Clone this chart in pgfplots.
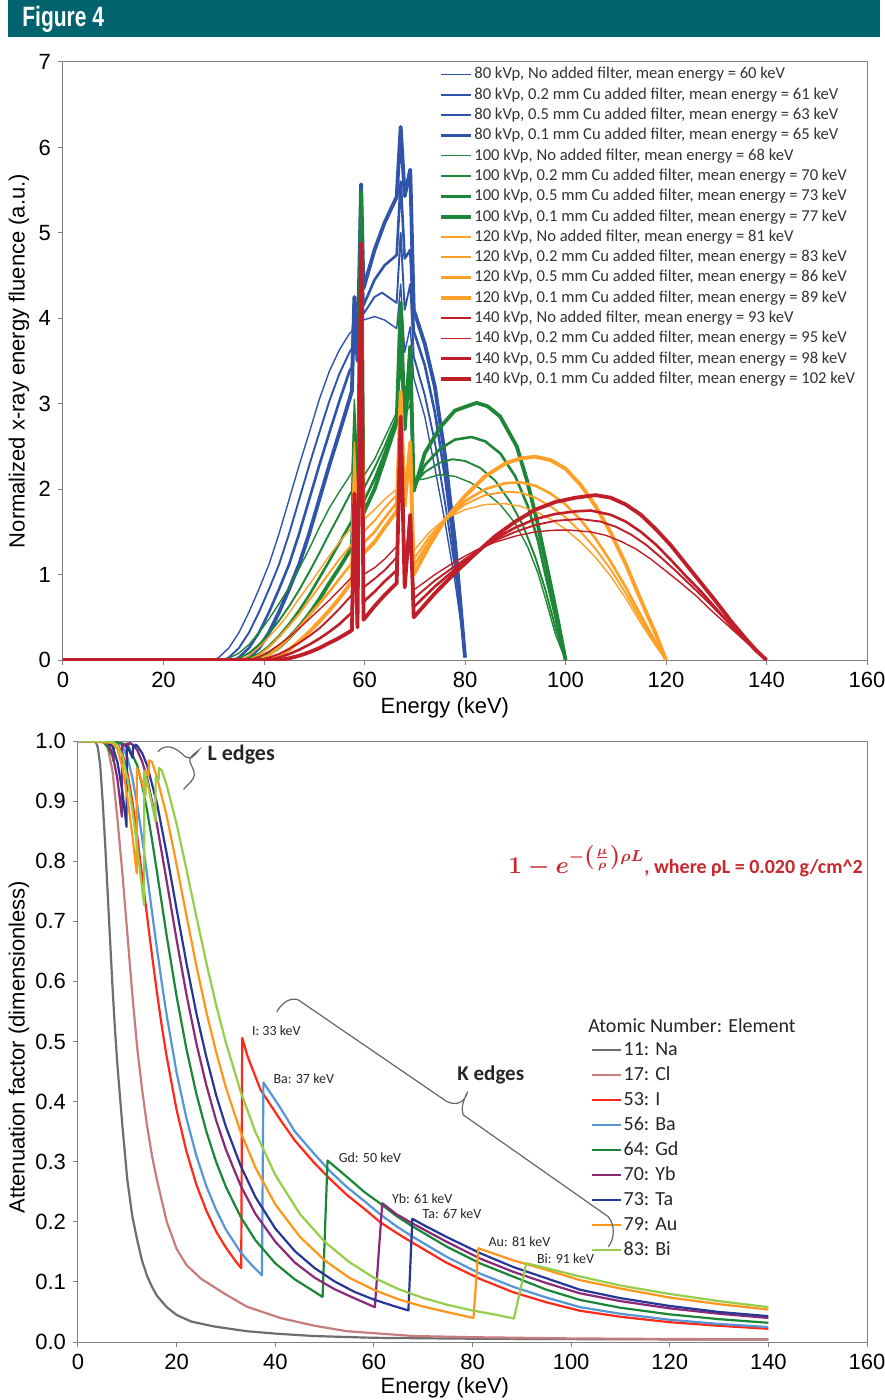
\documentclass[border=0pt]{standalone}
\usepackage{pgfplots}
\pgfplotsset{compat=1.18}
\usepackage{fontspec}
\setmainfont{Carlito}
\newfontfamily\narrowfont{Liberation Sans}[FakeStretch=0.75]
\newfontfamily\arialfont{Liberation Sans}
\newcommand{\tickfont}{\arialfont\fontsize{11}{12}\selectfont}
\newcommand{\labfont}{\arialfont\fontsize{11}{13}\selectfont}

\definecolor{headteal}{RGB}{0,99,110}
\definecolor{kblue}{RGB}{47,84,170}
\definecolor{kgreen}{RGB}{30,135,55}
\definecolor{korange}{RGB}{255,160,40}
\definecolor{kred}{RGB}{192,30,40}
\definecolor{cNa}{RGB}{110,110,110}
\definecolor{cCl}{RGB}{200,125,125}
\definecolor{cI}{RGB}{255,40,25}
\definecolor{cBa}{RGB}{85,150,215}
\definecolor{cGd}{RGB}{25,135,55}
\definecolor{cYb}{RGB}{140,40,120}
\definecolor{cTa}{RGB}{40,55,150}
\definecolor{cAu}{RGB}{255,150,25}
\definecolor{cBi}{RGB}{150,205,75}
\definecolor{formred}{RGB}{200,40,45}

\pgfplotsset{
  figaxis/.style={
    scale only axis,
    xmin=0, xmax=160, xtick={0,20,...,160},
    xtick pos=bottom, ytick pos=left, tick align=outside,
    major tick length=2.5pt,
    axis line style={draw=black!50, line width=0.5pt},
    every tick/.style={draw=black!50, line width=0.5pt},
    /pgf/number format/assume math mode=true,
    tick label style={font=\tickfont, text=black},
    xlabel={Energy (keV)},
    no markers,
    every axis plot/.append style={line join=round},
    legend cell align=left,
  }
}

\begin{document}
\begin{tikzpicture}
\fill[white] (0,0) rectangle (442pt,-700pt);
\fill[headteal] (4pt,0pt) rectangle (440pt,-18.5pt);
\node[anchor=west, text=white, inner sep=0pt, font=\narrowfont\bfseries\fontsize{14}{14}\selectfont] at (11pt,-9.5pt) {Figure 4};

% ---------------- top: spectra ----------------
\begin{axis}[figaxis,
  at={(31.5pt,-330pt)}, anchor=south west,
  width=402pt, height=299pt,
  ymin=0, ymax=7, ytick={0,1,...,7},
  xlabel style={font=\labfont, at={(axis description cs:0.475,0)}, anchor=center, yshift=-24pt},
  ylabel={Normalized x-ray energy fluence (a.u.)},
  ylabel style={font=\labfont, at={(axis description cs:-0.0547,0.5)}, anchor=center},
  legend image code/.code={\draw[#1] (0pt,0pt) -- (15pt,0pt);},
  legend style={at={(0.4676,0.995)}, anchor=north west, draw=none, fill=none,
    inner sep=0pt, row sep=0.95pt, font=\fontsize{8.3}{9}\selectfont, text=black!80,
    nodes={inner sep=0.6pt, text height=6.2pt, text depth=1.8pt}},
]
% 80 kVp
\addplot[kblue, line width=0.7pt] coordinates {(0,0)(30,0)(31,0.03)(33,0.14)(35,0.32)(37,0.56)(39,0.83)(41,1.12)(43,1.48)(45,1.88)(47,2.28)(49,2.66)(51,3.05)(53,3.38)(55,3.63)(57,3.82)(57.5,3.85)(57.98,4.05)(58.6,3.8)(59.32,4.7)(59.8,3.98)(62,4.02)(64,3.98)(66.4,3.88)(67.2,4.4)(68,3.6)(69.1,3.9)(69.8,3.3)(72,2.85)(74,2.25)(76,1.62)(78,0.92)(79,0.5)(80,0.03)};
\addlegendentry{80 kVp, No added filter, mean energy = 60 keV}
\addplot[kblue, line width=0.95pt] coordinates {(0,0)(32,0)(33,0.03)(35,0.14)(37,0.32)(39,0.56)(41,0.83)(43,1.12)(45,1.48)(47,1.88)(49,2.28)(51,2.66)(53,3.03)(55,3.35)(57,3.6)(57.5,3.65)(57.98,4.1)(58.6,3.7)(59.32,5.0)(59.8,4.05)(62,4.25)(63.5,4.3)(66.4,4.18)(67.2,5.0)(68,4.1)(69.1,4.4)(69.8,3.55)(72,3.1)(74,2.55)(76,1.85)(78,1.08)(79,0.58)(80,0.03)};
\addlegendentry{80 kVp, 0.2 mm Cu added filter, mean energy = 61 keV}
\addplot[kblue, line width=1.3pt] coordinates {(0,0)(34,0)(35,0.03)(37,0.14)(39,0.32)(41,0.56)(43,0.83)(45,1.12)(47,1.48)(49,1.88)(51,2.28)(53,2.66)(55,3.03)(57,3.38)(57.5,3.43)(57.98,4.2)(58.6,3.6)(59.32,5.3)(59.8,4.15)(62,4.45)(64,4.62)(66.4,4.74)(67.2,5.6)(68,4.7)(69.1,4.8)(69.8,3.85)(72,3.45)(74,2.9)(76,2.15)(78,1.22)(79,0.65)(80,0.03)};
\addlegendentry{80 kVp, 0.5 mm Cu added filter, mean energy = 63 keV}
\addplot[kblue, line width=1.9pt] coordinates {(0,0)(36,0)(37,0.03)(39,0.14)(41,0.32)(43,0.56)(45,0.83)(47,1.12)(49,1.48)(51,1.88)(53,2.28)(55,2.66)(57,3.05)(57.5,3.15)(57.98,4.25)(58.6,3.5)(59.32,5.57)(59.8,4.35)(62,4.8)(64,5.12)(66.4,5.42)(67.2,6.24)(68,5.43)(69.1,5.74)(69.8,4.1)(72,3.7)(74,3.2)(76,2.4)(78,1.38)(79,0.72)(80,0.03)};
\addlegendentry{80 kVp, 0.1 mm Cu added filter, mean energy = 65 keV}
% 100 kVp
\addplot[kgreen, line width=0.7pt] coordinates {(0,0)(32,0)(33,0.02)(35,0.08)(37,0.18)(39,0.32)(41,0.48)(43,0.66)(45,0.85)(47,1.07)(49,1.3)(51,1.55)(53,1.78)(55,1.97)(57,2.15)(57.5,2.2)(57.98,3.05)(58.6,2.3)(59.32,4.5)(59.8,2.15)(62,2.35)(64,2.6)(66.4,2.9)(67.2,3.4)(68,2.85)(69.1,3.0)(69.8,2.1)(72,2.12)(75,2.17)(78,2.15)(81,2.08)(84,1.97)(87,1.82)(90,1.6)(92.5,1.32)(94.5,1.02)(96,0.72)(98,0.3)(100,0)};
\addlegendentry{100 kVp, No added filter, mean energy = 68 keV}
\addplot[kgreen, line width=0.95pt] coordinates {(0,0)(34,0)(35,0.02)(37,0.08)(39,0.18)(41,0.31)(43,0.46)(45,0.63)(47,0.82)(49,1.03)(51,1.25)(53,1.48)(55,1.7)(57,1.93)(57.5,1.98)(57.98,2.8)(58.6,1.95)(59.32,4.9)(59.8,2.0)(62,2.25)(64,2.5)(66.4,2.85)(67.2,3.6)(68,2.8)(69.1,3.2)(69.8,2.05)(72,2.2)(75,2.31)(77.5,2.35)(80,2.33)(83,2.25)(86,2.1)(89,1.85)(91.5,1.58)(94,1.2)(96,0.82)(98,0.38)(100,0)};
\addlegendentry{100 kVp, 0.2 mm Cu added filter, mean energy = 70 keV}
\addplot[kgreen, line width=1.3pt] coordinates {(0,0)(36,0)(37,0.02)(39,0.07)(41,0.16)(43,0.28)(45,0.42)(47,0.58)(49,0.76)(51,0.96)(53,1.16)(55,1.37)(57,1.58)(57.5,1.63)(57.98,2.55)(58.6,1.6)(59.32,5.2)(59.8,1.85)(62,2.12)(64,2.42)(66.4,2.8)(67.2,3.9)(68,2.75)(69.1,3.4)(69.8,2.0)(72,2.28)(75,2.47)(78,2.58)(81.3,2.61)(84,2.56)(87,2.42)(90,2.15)(92.5,1.8)(94.5,1.4)(96,1.0)(98,0.5)(100,0)};
\addlegendentry{100 kVp, 0.5 mm Cu added filter, mean energy = 73 keV}
\addplot[kgreen, line width=1.9pt] coordinates {(0,0)(38,0)(39,0.02)(41,0.07)(43,0.15)(45,0.26)(47,0.39)(49,0.54)(51,0.71)(53,0.9)(55,1.08)(57,1.27)(57.5,1.32)(57.98,2.3)(58.6,1.3)(59.32,5.48)(59.8,1.72)(62,2.0)(64,2.35)(66.4,2.78)(67.2,4.18)(68,2.7)(69.1,3.67)(69.8,1.98)(72,2.42)(75,2.72)(78,2.92)(82.3,3.01)(84.5,2.97)(87,2.85)(90.3,2.5)(92.3,2.11)(94.3,1.64)(96.3,1.09)(98.2,0.55)(100,0)};
\addlegendentry{100 kVp, 0.1 mm Cu added filter, mean energy = 77 keV}
% 120 kVp
\addplot[korange, line width=0.7pt] coordinates {(0,0)(35,0)(37,0.05)(39,0.15)(41,0.27)(43,0.4)(45,0.55)(47,0.72)(49,0.88)(51,1.05)(53,1.22)(55,1.38)(57,1.52)(57.5,1.56)(57.98,2.55)(58.6,1.7)(59.32,3.4)(59.8,1.64)(62,1.76)(64,1.88)(66.4,2.0)(67.2,2.6)(68,1.95)(69.1,2.2)(69.8,1.28)(73,1.5)(76,1.65)(80,1.76)(84,1.82)(88,1.83)(91,1.8)(94,1.74)(97,1.65)(100,1.53)(103,1.38)(106,1.2)(109,0.98)(112,0.72)(115,0.43)(118,0.16)(120,0)};
\addlegendentry{120 kVp, No added filter, mean energy = 81 keV}
\addplot[korange, line width=0.95pt] coordinates {(0,0)(37,0)(39,0.06)(41,0.15)(43,0.27)(45,0.4)(47,0.54)(49,0.7)(51,0.86)(53,1.02)(55,1.18)(57,1.32)(57.5,1.36)(57.98,2.35)(58.6,1.5)(59.32,3.6)(59.8,1.5)(62,1.63)(64,1.78)(66.4,1.93)(67.2,2.8)(68,1.9)(69.1,2.35)(69.8,1.18)(73,1.45)(76,1.64)(80,1.82)(84,1.93)(88,1.97)(91,1.96)(94,1.9)(97,1.8)(100,1.67)(103,1.5)(106,1.3)(109,1.06)(112,0.78)(115,0.47)(118,0.18)(120,0)};
\addlegendentry{120 kVp, 0.2 mm Cu added filter, mean energy = 83 keV}
\addplot[korange, line width=1.3pt] coordinates {(0,0)(39,0)(41,0.06)(43,0.15)(45,0.26)(47,0.38)(49,0.52)(51,0.66)(53,0.8)(55,0.95)(57,1.1)(57.5,1.14)(57.98,2.2)(58.6,1.3)(59.32,3.8)(59.8,1.37)(62,1.5)(64,1.66)(66.4,1.84)(67.2,3.0)(68,1.85)(69.1,2.45)(69.8,1.1)(73,1.4)(76,1.64)(80,1.86)(84,2.0)(88,2.07)(91,2.08)(94,2.04)(97,1.95)(100,1.82)(103,1.64)(106,1.42)(109,1.15)(112,0.85)(115,0.52)(118,0.2)(120,0)};
\addlegendentry{120 kVp, 0.5 mm Cu added filter, mean energy = 86 keV}
\addplot[korange, line width=1.9pt] coordinates {(0,0)(41,0)(43,0.05)(45,0.12)(47,0.22)(49,0.33)(51,0.45)(53,0.58)(55,0.72)(57,0.88)(57.5,0.92)(57.98,2.0)(58.6,1.05)(59.32,4.0)(59.8,1.25)(62,1.38)(64,1.55)(66.4,1.74)(67.2,3.14)(68,1.8)(69.1,2.55)(69.8,1.0)(73,1.35)(76,1.64)(80,1.92)(84,2.15)(88,2.3)(91,2.36)(94,2.38)(97,2.34)(100,2.24)(103,2.05)(106,1.8)(109,1.49)(112,1.12)(115,0.7)(118,0.3)(120,0)};
\addlegendentry{120 kVp, 0.1 mm Cu added filter, mean energy = 89 keV}
% 140 kVp
\addplot[kred, line width=0.7pt] coordinates {(0,0)(37,0)(39,0.04)(41,0.1)(43,0.18)(45,0.27)(47,0.37)(49,0.48)(51,0.59)(53,0.7)(55,0.82)(57,0.94)(57.5,0.97)(57.98,1.7)(58.6,0.95)(59.32,3.9)(59.8,1.0)(62,1.08)(64,1.18)(66.4,1.33)(67.2,2.3)(68,1.25)(69.1,1.5)(69.8,0.82)(74,1.0)(78,1.15)(82,1.28)(86,1.38)(90,1.45)(94,1.5)(98,1.52)(101,1.52)(105,1.5)(108,1.46)(111,1.39)(114,1.3)(117,1.18)(120,1.04)(123,0.9)(126,0.75)(129,0.58)(132,0.42)(135,0.26)(138,0.1)(140,0)};
\addlegendentry{140 kVp, No added filter, mean energy = 93 keV}
\addplot[kred, line width=0.95pt] coordinates {(0,0)(39,0)(41,0.03)(43,0.07)(45,0.13)(47,0.2)(49,0.28)(51,0.37)(53,0.48)(55,0.6)(57,0.73)(57.5,0.76)(57.98,1.8)(58.6,0.75)(59.32,4.2)(59.8,0.85)(62,0.95)(64,1.05)(66.4,1.2)(67.2,2.5)(68,1.1)(69.1,1.6)(69.8,0.72)(74,0.93)(78,1.1)(82,1.26)(86,1.4)(90,1.5)(94,1.58)(98,1.63)(103,1.65)(107,1.62)(110,1.56)(113,1.47)(116,1.35)(119,1.2)(122,1.04)(125,0.87)(128,0.7)(131,0.52)(134,0.34)(137,0.16)(140,0)};
\addlegendentry{140 kVp, 0.2 mm Cu added filter, mean energy = 95 keV}
\addplot[kred, line width=1.3pt] coordinates {(0,0)(41,0)(43,0.03)(45,0.07)(47,0.12)(49,0.18)(51,0.25)(53,0.33)(55,0.42)(57,0.53)(57.5,0.56)(57.98,1.9)(58.6,0.55)(59.32,4.55)(59.8,0.68)(62,0.8)(64,0.92)(66.4,1.05)(67.2,2.7)(68,1.0)(69.1,1.65)(69.8,0.62)(74,0.86)(78,1.06)(82,1.25)(86,1.42)(90,1.55)(94,1.65)(98,1.71)(102,1.74)(105,1.75)(109,1.7)(112,1.62)(115,1.5)(118,1.35)(121,1.17)(124,0.98)(127,0.8)(130,0.6)(133,0.4)(136,0.22)(138,0.1)(140,0)};
\addlegendentry{140 kVp, 0.5 mm Cu added filter, mean energy = 98 keV}
\addplot[kred, line width=1.9pt] coordinates {(0,0)(43,0)(45,0.02)(47,0.05)(49,0.09)(51,0.14)(53,0.2)(55,0.26)(57,0.33)(57.5,0.35)(57.98,1.95)(58.6,0.38)(59.32,4.88)(59.8,0.47)(62,0.63)(64,0.76)(66.4,0.9)(67.2,2.85)(68,0.85)(69.1,1.7)(69.8,0.5)(74,0.78)(78,1.02)(82,1.24)(86,1.45)(90,1.62)(94,1.76)(98,1.85)(102,1.9)(106,1.93)(109,1.9)(112,1.82)(115,1.7)(118,1.53)(121,1.34)(124,1.12)(127,0.9)(130,0.68)(133,0.45)(136,0.24)(138,0.11)(140,0)};
\addlegendentry{140 kVp, 0.1 mm Cu added filter, mean energy = 102 keV}
\end{axis}

% ---------------- bottom: attenuation ----------------
\begin{axis}[figaxis,
  at={(39pt,-671pt)}, anchor=south west,
  width=394.5pt, height=300.5pt,
  ymin=0, ymax=1, ytick={0,0.1,0.2,0.3,0.4,0.5,0.6,0.7,0.8,0.9,1},
  yticklabel style={/pgf/number format/fixed, /pgf/number format/fixed zerofill, /pgf/number format/precision=1},
  xlabel style={font=\labfont, at={(axis description cs:0.465,0)}, anchor=center, yshift=-23pt},
  ylabel={Attenuation factor (dimensionless)},
  ylabel style={font=\labfont, at={(axis description cs:-0.0748,0.491)}, anchor=center},
  legend image code/.code={\draw[#1] (0pt,0pt) -- (14.5pt,0pt);},
  legend style={at={(0.650,0.503)}, anchor=north west, draw=none, fill=none,
    inner sep=0pt, row sep=2.3pt, font=\fontsize{10}{11}\selectfont, text=black!85,
    nodes={inner sep=0.6pt, text height=7pt, text depth=2pt}},
  every axis plot/.append style={line width=1.1pt},
]
\addplot[cNa] coordinates {(0,1)(3.5,1)(4,0.99)(4.5,0.96)(5,0.9)(5.5,0.83)(6,0.75)(6.5,0.67)(7,0.59)(7.5,0.52)(8,0.46)(9,0.36)(10,0.27)(11,0.21)(12,0.17)(13,0.135)(14,0.11)(15,0.092)(16,0.077)(18,0.058)(20,0.045)(23,0.034)(27.5,0.026)(34.2,0.018)(40,0.014)(47.7,0.01)(60,0.007)(80,0.0055)(100,0.0048)(120,0.0043)(140,0.004)};
\addlegendentry{11: Na}
\addplot[cCl] coordinates {(0,1)(5,1)(6,0.99)(7,0.95)(8,0.87)(9,0.78)(10,0.68)(11,0.58)(12,0.49)(13,0.42)(14,0.36)(15,0.31)(16,0.27)(18,0.2)(20,0.155)(22,0.128)(25,0.105)(27.5,0.092)(30,0.079)(34.2,0.059)(41,0.04)(48,0.027)(54.5,0.018)(68,0.01)(80,0.008)(100,0.006)(120,0.005)(140,0.0045)};
\addlegendentry{17: Cl}
\addplot[cI] coordinates {(0,1)(7,1)(8,0.995)(9,0.98)(10,0.948)(11,0.901)(12,0.842)(13,0.776)(14,0.709)(15,0.644)(16,0.582)(17,0.525)(18,0.474)(20,0.386)(22,0.317)(24,0.262)(26,0.219)(28,0.184)(30,0.157)(32,0.134)(33.1,0.123)(33.3,0.506)(34.4,0.475)(37,0.42)(41,0.37)(44,0.335)(47.7,0.3)(51,0.272)(54.5,0.245)(58,0.222)(61.2,0.2)(64.5,0.182)(67.9,0.165)(74.7,0.132)(81.5,0.105)(88.2,0.083)(95,0.066)(101.8,0.052)(110,0.042)(120,0.033)(130,0.027)(140,0.022)};
\addlegendentry{53: I}
\addplot[cBa] coordinates {(0,1)(8,0.999)(9,0.992)(10,0.973)(11,0.94)(12,0.894)(13,0.839)(14,0.778)(15,0.716)(16,0.655)(17,0.597)(18,0.543)(20,0.448)(22,0.372)(24,0.31)(26,0.26)(28,0.22)(30,0.187)(33,0.149)(35,0.13)(37.3,0.111)(37.6,0.432)(41,0.39)(44,0.35)(47.7,0.315)(51,0.285)(54.5,0.258)(58,0.235)(61.2,0.213)(64.5,0.193)(67.9,0.175)(74.7,0.142)(81.5,0.114)(88.2,0.092)(95,0.074)(101.8,0.058)(110,0.047)(120,0.037)(130,0.03)(140,0.025)};
\addlegendentry{56: Ba}
\addplot[cGd] coordinates {(0,1)(5,1)(6,0.99)(7,0.975)(7.2,0.966)(7.25,0.999)(10,0.994)(12,0.96)(13,0.927)(14,0.885)(15,0.836)(16,0.783)(17,0.729)(18,0.675)(20,0.575)(22,0.487)(24,0.413)(26,0.351)(28,0.3)(30,0.258)(33,0.208)(36,0.169)(40,0.131)(44,0.104)(47,0.0886)(49.6,0.075)(50.6,0.302)(54.5,0.275)(58,0.25)(61.2,0.231)(64.5,0.21)(67.9,0.192)(74.7,0.159)(81.5,0.131)(88.2,0.109)(95,0.087)(101.8,0.07)(110,0.057)(120,0.046)(130,0.038)(140,0.032)};
\addlegendentry{64: Gd}
\addplot[cYb] coordinates {(0,1)(5,1)(6,0.997)(7,0.979)(8,0.936)(8.9,0.874)(8.95,0.995)(9.97,0.99)(10,0.996)(10.48,0.995)(10.5,0.997)(11,0.9946)(12,0.985)(13,0.966)(14,0.939)(16,0.861)(18,0.766)(20,0.669)(22,0.578)(24,0.497)(26,0.428)(28,0.369)(30,0.32)(33,0.26)(36,0.213)(40,0.167)(44,0.132)(48,0.107)(52,0.088)(56,0.073)(60.2,0.058)(61.7,0.231)(64.5,0.213)(67.9,0.197)(74.7,0.167)(81.5,0.139)(88.2,0.117)(95,0.098)(101.8,0.081)(110,0.068)(120,0.056)(130,0.047)(140,0.04)};
\addlegendentry{70: Yb}
\addplot[cTa] coordinates {(0,1)(6,0.998)(7,0.991)(8,0.965)(9,0.916)(9.85,0.857)(9.9,0.992)(11.1,0.972)(11.15,0.993)(11.65,0.991)(11.7,0.994)(12,0.992)(13,0.98)(14,0.96)(16,0.897)(18,0.812)(20,0.72)(22,0.63)(24,0.547)(26,0.475)(28,0.411)(30,0.358)(33,0.293)(36,0.241)(40,0.189)(44,0.151)(48,0.123)(52,0.101)(56,0.0837)(60,0.0706)(64,0.06)(67,0.0526)(67.8,0.205)(70,0.195)(74.7,0.175)(81.5,0.148)(88.2,0.125)(95,0.106)(101.8,0.087)(110,0.073)(120,0.06)(130,0.05)(140,0.043)};
\addlegendentry{73: Ta}
\addplot[cAu] coordinates {(0,1)(7,0.997)(8,0.986)(9,0.957)(10,0.908)(11,0.845)(11.9,0.78)(11.95,0.955)(12.5,0.945)(13.2,0.925)(13.7,0.91)(13.75,0.95)(14.3,0.942)(14.36,0.968)(15,0.965)(16,0.94)(18,0.875)(20,0.794)(22,0.709)(24,0.626)(26,0.55)(28,0.483)(30,0.423)(33,0.349)(36,0.29)(40,0.229)(45,0.175)(50,0.136)(55,0.107)(60,0.0868)(65,0.071)(70,0.059)(75,0.0495)(80.2,0.04)(81.2,0.156)(88.2,0.136)(95,0.12)(101.8,0.103)(110,0.089)(120,0.074)(130,0.063)(140,0.054)};
\addlegendentry{79: Au}
\addplot[cBi] coordinates {(0,1)(7,0.999)(8,0.993)(9,0.975)(10,0.939)(11,0.887)(12,0.824)(13.4,0.727)(13.45,0.95)(14,0.933)(15,0.895)(15.7,0.866)(15.75,0.94)(16.35,0.935)(16.4,0.955)(17,0.951)(18,0.926)(20,0.862)(22,0.786)(24,0.708)(26,0.632)(28,0.561)(30,0.498)(33,0.416)(36,0.349)(40,0.278)(45,0.213)(50,0.167)(55,0.133)(60,0.107)(65,0.088)(70,0.0733)(75,0.0617)(80,0.0524)(85,0.045)(88.4,0.039)(90.9,0.131)(95,0.123)(101.8,0.109)(110,0.094)(120,0.08)(130,0.068)(140,0.058)};
\addlegendentry{83: Bi}
\end{axis}

% annotations of the lower chart (positions in pt, from the axis scale)
\node[anchor=west, inner sep=0pt, text=black!85, font=\fontsize{10}{11}\selectfont] at (294pt,-512.6pt) {Atomic Number: Element};
\node[anchor=west, inner sep=0pt, text=formred] at (254pt,-430.6pt) {{\fontsize{11.5}{12}\selectfont\boldmath$1-e^{-\left(\frac{\mu}{\rho}\right)\rho L}$}{\bfseries\fontsize{10}{11}\selectfont, where ρL = 0.020 g/cm\textasciicircum 2}};
\node[anchor=west, inner sep=0pt, font=\bfseries\fontsize{11}{12}\selectfont, text=black!85] at (103.6pt,-377.4pt) {L edges};
\node[anchor=center, inner sep=0pt, font=\bfseries\fontsize{10.5}{12}\selectfont, text=black!85] at (245.4pt,-537.6pt) {K edges};
\node[anchor=west, inner sep=0pt, font=\fontsize{7}{8}\selectfont, text=black!85] at (125.8pt,-515.3pt) {I: 33 keV};
\node[anchor=west, inner sep=0pt, font=\fontsize{7}{8}\selectfont, text=black!85] at (136.6pt,-539.1pt) {Ba: 37 keV};
\node[anchor=west, inner sep=0pt, font=\fontsize{7}{8}\selectfont, text=black!85] at (169.2pt,-578.7pt) {Gd: 50 keV};
\node[anchor=west, inner sep=0pt, font=\fontsize{7}{8}\selectfont, text=black!85] at (195.8pt,-599.2pt) {Yb: 61 keV};
\node[anchor=west, inner sep=0pt, font=\fontsize{7}{8}\selectfont, text=black!85] at (211.1pt,-606.7pt) {Ta: 67 keV};
\node[anchor=west, inner sep=0pt, font=\fontsize{7}{8}\selectfont, text=black!85] at (244.1pt,-620.8pt) {Au: 81 keV};
\node[anchor=west, inner sep=0pt, font=\fontsize{7}{8}\selectfont, text=black!85] at (268.3pt,-629.2pt) {Bi: 91 keV};
\draw[black!60, line width=0.6pt] (78.94pt,-375.9pt) .. controls (82.15pt,-372pt) and (87.08pt,-372.6pt) .. (92.5pt,-378.3pt) .. controls (95.22pt,-380.1pt) and (97.19pt,-378pt) .. (99.16pt,-375.3pt) .. controls (96.7pt,-377.1pt) and (94.48pt,-378.9pt) .. (94.97pt,-380.9pt) .. controls (96.2pt,-384pt) and (98.18pt,-387pt) .. (96.7pt,-389.1pt) .. controls (95.22pt,-391.5pt) and (93.24pt,-393pt) .. (91.76pt,-394.7pt);
\draw[black!60, line width=0.6pt] (138.36pt,-505.85pt) .. controls (141.32pt,-500.9pt) and (145.51pt,-498.5pt) .. (149.21pt,-500pt) -- (223.43pt,-550.8pt) .. controls (228.85pt,-553.2pt) and (232.55pt,-550.8pt) .. (233.78pt,-545.8pt) .. controls (231.81pt,-550.2pt) and (230.33pt,-553.8pt) .. (231.56pt,-557.4pt) -- (304.05pt,-608.3pt) .. controls (307.75pt,-612.4pt) and (307.26pt,-619.9pt) .. (304.05pt,-623.4pt);
\pgfresetboundingbox
\path (0,0) rectangle (442pt,-700pt);
\end{tikzpicture}
\end{document}
